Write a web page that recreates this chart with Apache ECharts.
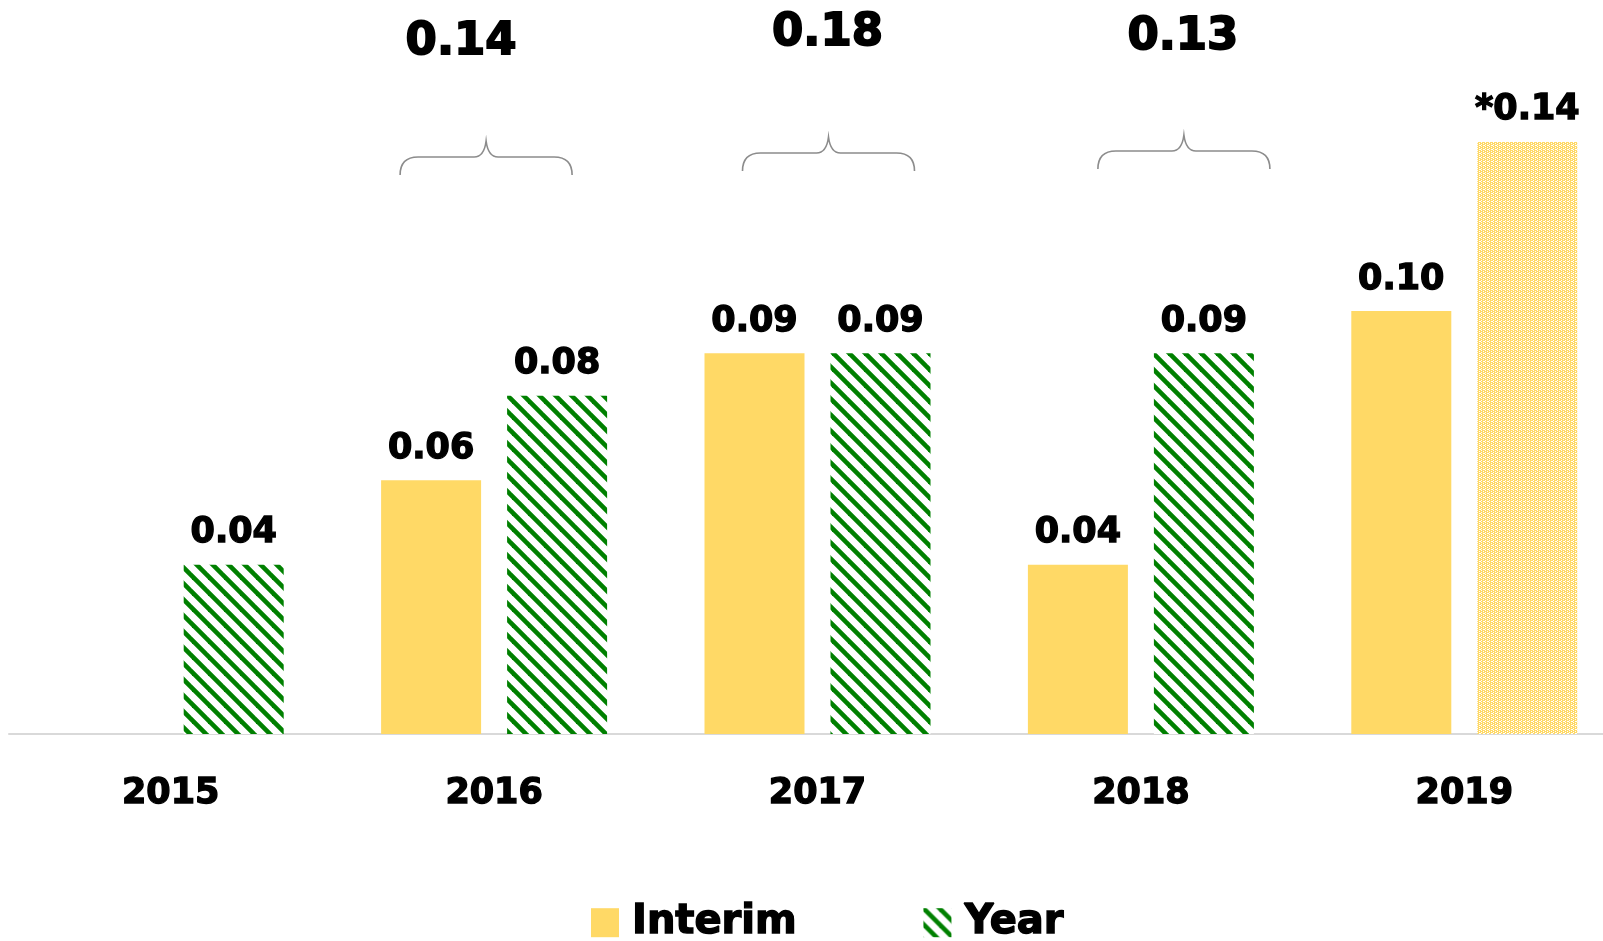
<!DOCTYPE html>
<html>
<head>
<meta charset="utf-8">
<script src="https://cdn.jsdelivr.net/npm/echarts@6/dist/echarts.min.js"></script>
<style>
html,body{margin:0;padding:0;background:#fff;overflow:hidden;}
#chart{width:1626px;height:941px;}
</style>
</head>
<body>
<div id="chart"></div>
<script>
// ---- data ----
const categories = ['2015', '2016', '2017', '2018', '2019'];
const interimValues = [null, 0.06, 0.09, 0.04, 0.10];
const yearValues = [0.04, 0.08, 0.09, 0.09, 0.14];
const estimatedYearIndex = 4;               // 2019 full-year value is an estimate (*)
const totals = [null, 0.14, 0.18, 0.13, null];

// ---- annotation layout (pixel nudges, not data) ----
const braceShiftX = [0, -8, 11, 43, 0];
const braceLineY = [0, 157, 153, 151, 0];
const totalShiftX = [0, -33, 10, 42, 0];
const totalY = [0, 42, 33, 37, 0];

const FONT = '"DejaVu Sans", "Liberation Sans", Arial, sans-serif';
const YELLOW = '#FFD966';
const GREEN = '#008000';
const HEAVY = { textBorderColor: '#000', textBorderWidth: 1.4 };

function hatchPattern() {
  const s = 16;
  const c = document.createElement('canvas');
  c.width = s; c.height = s;
  const g = c.getContext('2d');
  g.fillStyle = '#fff';
  g.fillRect(0, 0, s, s);
  g.strokeStyle = GREEN;
  g.lineWidth = 4.6;
  g.lineCap = 'square';
  for (let k = -1; k <= 1; k++) {
    g.beginPath();
    g.moveTo(k * s - 4, -4);
    g.lineTo(k * s + s + 4, s + 4);
    g.stroke();
  }
  return c;
}
function dotPattern() {
  const c = document.createElement('canvas');
  c.width = 4; c.height = 4;
  const g = c.getContext('2d');
  g.fillStyle = YELLOW;
  g.fillRect(0, 0, 4, 4);
  g.fillStyle = '#fff';
  g.fillRect(1, 0, 1, 1);
  g.fillRect(3, 1, 1, 1);
  g.fillRect(1, 2, 1, 1);
  g.fillRect(3, 3, 1, 1);
  g.fillRect(0, 1, 1, 1);
  return c;
}

const hatch = { image: hatchPattern(), repeat: 'repeat' };
const dots = { image: dotPattern(), repeat: 'repeat' };

const labelStyle = Object.assign({
  show: true,
  position: 'top',
  distance: 14,
  color: '#000',
  fontFamily: FONT,
  fontWeight: 'bold',
  fontSize: 35
}, HEAVY);

const chart = echarts.init(document.getElementById('chart'), null, { renderer: 'canvas' });

const option = {
  backgroundColor: '#fff',
  animation: false,
  grid: { left: 9, top: 15, bottom: 207, right: 0, containLabel: false },
  legend: {
    data: [{ name: 'Interim', icon: 'rect' }, { name: 'Year', icon: 'rect' }],
    left: 591,
    top: 902,
    padding: 0,
    itemWidth: 28,
    itemHeight: 29,
    itemGap: 126,
    textStyle: Object.assign({ fontFamily: FONT, fontWeight: 'bold', fontSize: 40, color: '#000', padding: [0, 0, 0, 8] }, HEAVY)
  },
  xAxis: {
    type: 'category',
    data: categories,
    axisLine: { show: true, lineStyle: { color: '#D9D9D9', width: 2 } },
    axisTick: { show: false },
    axisLabel: Object.assign({ margin: 42, color: '#000', fontFamily: FONT, fontWeight: 'bold', fontSize: 35 }, HEAVY)
  },
  yAxis: {
    type: 'value',
    min: 0,
    max: 0.17,
    show: false,
    splitLine: { show: false }
  },
  series: [
    {
      name: 'Interim',
      type: 'bar',
      barWidth: 100,
      barGap: '26%',
      itemStyle: { color: YELLOW },
      label: Object.assign({}, labelStyle, { formatter: p => p.value.toFixed(2) }),
      data: interimValues
    },
    {
      name: 'Year',
      type: 'bar',
      barWidth: 100,
      barGap: '26%',
      itemStyle: { color: hatch },
      label: Object.assign({}, labelStyle, {
        formatter: p => (p.dataIndex === estimatedYearIndex ? '*' : '') + p.value.toFixed(2)
      }),
      data: yearValues.map((v, i) => i === estimatedYearIndex ? { value: v, itemStyle: { color: dots } } : v)
    },
    {
      name: 'Total',
      type: 'custom',
      silent: true,
      clip: false,
      data: totals.map((t, i) => [i, t]).filter(d => d[1] != null),
      renderItem: function (params, api) {
        const i = api.value(0);
        const t = api.value(1);
        const cx0 = api.coord([i, 0])[0];
        const cx = cx0 + braceShiftX[i];
        const ly = braceLineY[i];
        const ty = ly - 16, by = ly + 18;
        const hw = 86;
        const p = `M${cx - hw},${by} Q${cx - hw},${ly} ${cx - hw + 18},${ly} L${cx - 12},${ly} Q${cx - 2},${ly} ${cx},${ty} Q${cx + 2},${ly} ${cx + 12},${ly} L${cx + hw - 18},${ly} Q${cx + hw},${ly} ${cx + hw},${by}`;
        return {
          type: 'group',
          children: [
            { type: 'path', shape: { pathData: p }, style: { fill: 'none', stroke: '#8C8C8C', lineWidth: 1.6 } },
            {
              type: 'text',
              style: {
                text: t.toFixed(2),
                x: cx0 + totalShiftX[i],
                y: totalY[i],
                align: 'center',
                verticalAlign: 'middle',
                fill: '#000',
                stroke: '#000',
                lineWidth: 1.8,
                font: `bold 45px ${FONT}`
              }
            }
          ]
        };
      }
    }
  ]
};
chart.setOption(option);
</script>
</body>
</html>
